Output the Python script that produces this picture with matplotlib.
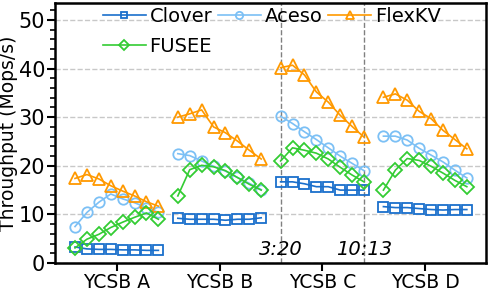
import matplotlib
matplotlib.use("Agg")
import matplotlib.pyplot as plt
from matplotlib.ticker import MultipleLocator
import numpy as np

workloads = ["YCSB A", "YCSB B", "YCSB C", "YCSB D"]
systems = ["Clover", "Aceso", "FlexKV", "FUSEE"]

clover = [
    [3.3, 2.9, 2.8, 2.8, 2.7, 2.7, 2.6, 2.6],
    [9.2, 9.0, 9.0, 9.0, 8.8, 9.0, 9.0, 9.3],
    [16.7, 16.7, 16.3, 15.7, 15.7, 15.0, 15.0, 15.0],
    [11.6, 11.4, 11.4, 11.2, 11.0, 10.9, 11.0, 11.0],
]
aceso = [
    [7.5, 10.4, 12.5, 14.2, 13.2, 12.4, 11.4, 10.4],
    [22.5, 22.1, 21.0, 19.9, 18.9, 17.6, 16.4, 15.1],
    [30.2, 28.7, 27.0, 25.4, 23.7, 22.0, 20.5, 19.0],
    [26.1, 26.1, 25.3, 23.6, 22.2, 20.8, 19.1, 17.5],
]
flexkv = [
    [17.4, 18.2, 17.3, 15.9, 14.8, 13.8, 12.6, 11.7],
    [30.0, 30.7, 31.5, 28.0, 26.8, 25.1, 23.2, 21.4],
    [40.2, 40.7, 38.7, 35.2, 33.1, 30.4, 28.1, 25.9],
    [34.1, 34.8, 33.5, 31.2, 29.7, 27.3, 25.4, 23.5],
]
fusee = [
    [3.1, 4.9, 5.9, 7.3, 8.4, 9.4, 10.3, 9.0],
    [13.8, 19.2, 20.1, 19.8, 19.0, 17.6, 16.2, 15.0],
    [21.0, 23.7, 23.2, 22.6, 21.4, 19.7, 18.1, 16.7],
    [15.0, 19.1, 21.5, 21.1, 19.9, 18.5, 17.0, 15.7],
]
annotations = ["3:20", "10:13"]

series = [clover, aceso, flexkv, fusee]
colors = ["#1a6fcc", "#7cc0f5", "#ff9900", "#33cc33"]
markers = ["s", "o", "^", "D"]
msizes = [7, 7.5, 8, 7]

gap = 8.63
fig = plt.figure(figsize=(4.89, 2.93), dpi=100)
ax = fig.add_axes([55/489, 30/293, 431/489, 260/293])

handles = {}
for name, data, c, m, ms in zip(systems, series, colors, markers, msizes):
    for g, vals in enumerate(data):
        x = g * gap + np.arange(len(vals))
        ln, = ax.plot(x, vals, color=c, marker=m, markersize=ms,
                      markerfacecolor="none", markeredgewidth=1.3,
                      linewidth=1.2, label=name if g == 0 else None)
        if g == 0:
            handles[name] = ln

ax.set_xlim(-1.68, 34.5)
ax.set_ylim(0, 53.5)
ax.set_xticks([g * gap + 3.5 for g in range(4)])
ax.set_xticklabels(workloads, fontsize=13.5)
ax.yaxis.set_major_locator(MultipleLocator(10))
ax.yaxis.set_minor_locator(MultipleLocator(2))
ax.tick_params(axis="y", which="major", labelsize=15, length=5.5, width=1.5, pad=1.5)
ax.tick_params(axis="y", which="minor", length=3.5, width=1.2)
ax.tick_params(axis="x", length=5.5, width=1.5, pad=2)
ax.set_ylabel("Throughput (Mops/s)", fontsize=13.5)
ax.yaxis.set_label_coords(-0.085, 0.5)
ax.grid(axis="y", linestyle="--", color="#c8c8c8", linewidth=1.0)
ax.set_axisbelow(True)
for s in ax.spines.values():
    s.set_linewidth(1.8)

xl = [2 * gap, 2 * gap + 7]
for xv, t in zip(xl, annotations):
    ax.axvline(xv, color="#808080", linestyle="--", linewidth=1.0, zorder=0)
    ax.text(xv, 2.7, t, fontsize=14, style="italic", ha="center", va="center")

order = ["Clover", "FUSEE", "Aceso", "FlexKV"]
ax.legend(handles=[handles[k] for k in order], loc="upper left",
          bbox_to_anchor=(0.111, 0.985), ncol=3,
          frameon=False, fontsize=14, handlelength=2.2, handletextpad=0.2,
          columnspacing=0.3, labelspacing=0.55, markerscale=0.7,
          borderaxespad=0, borderpad=0)

fig.savefig("out.png", dpi=100)
